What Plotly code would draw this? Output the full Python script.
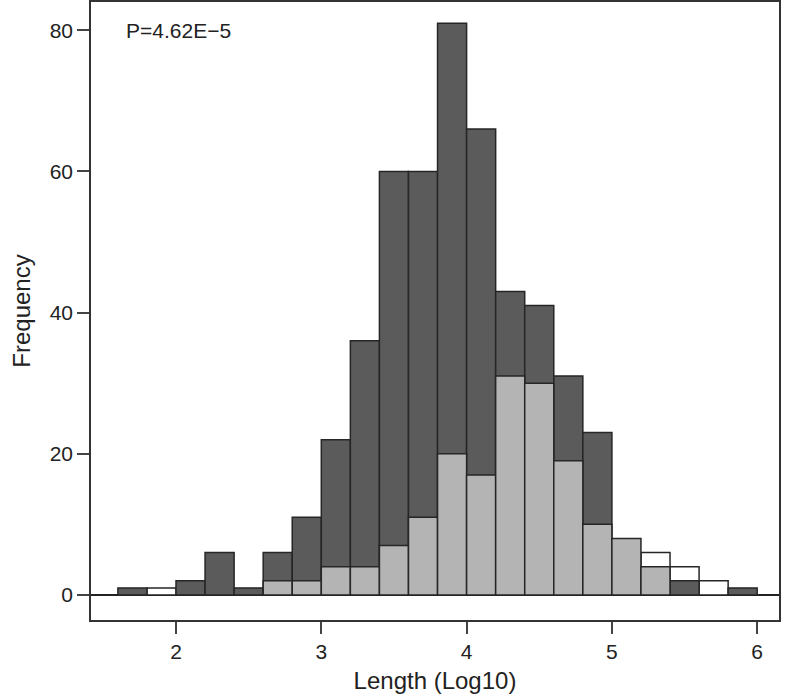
import plotly.graph_objects as go

# histogram bins (left edges, width 0.2)
bin_starts = [1.6, 1.8, 2.0, 2.2, 2.4, 2.6, 2.8, 3.0, 3.2, 3.4, 3.6,
              3.8, 4.0, 4.2, 4.4, 4.6, 4.8, 5.0, 5.2, 5.4, 5.6, 5.8]
bin_width = 0.2

# counts
white_counts = [0, 1, 0, 0, 0, 0, 0, 0, 0, 0, 0,
                0, 0, 0, 0, 0, 0, 0, 6, 4, 2, 0]
dark_counts = [1, 0, 2, 6, 1, 6, 11, 22, 36, 60, 60,
               81, 66, 43, 41, 31, 23, 0, 0, 2, 0, 1]
light_counts = [0, 0, 0, 0, 0, 2, 2, 4, 4, 7, 11,
                20, 17, 31, 30, 19, 10, 8, 4, 0, 0, 0]

x_ticks = [2, 3, 4, 5, 6]
y_ticks = [0, 20, 40, 60, 80]
p_label = 'P=4.62E\u22125'

centers = [b + bin_width / 2 for b in bin_starts]
edge = dict(color='#262626', width=1.5)

fig = go.Figure()
for counts, col in [(white_counts, 'white'),
                    (dark_counts, '#5b5b5b'),
                    (light_counts, '#b4b4b4')]:
    xs = [c for c, v in zip(centers, counts) if v > 0]
    ys = [v for v in counts if v > 0]
    fig.add_trace(go.Bar(x=xs, y=ys, width=bin_width,
                         marker=dict(color=col, line=edge),
                         showlegend=False, hoverinfo='skip'))

fig.add_annotation(x=1.64, y=80, xref='x', yref='y', text=p_label,
                   showarrow=False, xanchor='left', yanchor='middle',
                   font=dict(size=21, color='#222'))

fig.update_layout(
    width=785, height=699,
    barmode='overlay',
    plot_bgcolor='white',
    paper_bgcolor='white',
    margin=dict(l=91, r=6, t=2, b=79),
    font=dict(family='Liberation Sans, Arial, sans-serif', size=20, color='#222'),
)
fig.update_xaxes(
    range=[1.415, 6.15],
    tickvals=x_ticks, tickfont=dict(size=21),
    ticks='outside', ticklen=12, tickwidth=1.5, tickcolor='#444',
    showline=True, linecolor='#333', linewidth=1.5, mirror=True,
    showgrid=False, zeroline=False, automargin=False,
    title=dict(text='Length (Log10)', standoff=10),
)
fig.update_yaxes(
    range=[-3.55, 84],
    tickvals=y_ticks, tickfont=dict(size=21),
    ticks='outside', ticklen=12, tickwidth=1.5, tickcolor='#444',
    showline=True, linecolor='#333', linewidth=1.5, mirror=True,
    showgrid=False, automargin=False,
    zeroline=True, zerolinecolor='#222', zerolinewidth=1.5,
    title=dict(text='Frequency', standoff=12),
)

fig.write_html("out.html", config={'displayModeBar': False},
               post_script="document.body.style.margin='0';document.body.style.overflow='hidden';")
